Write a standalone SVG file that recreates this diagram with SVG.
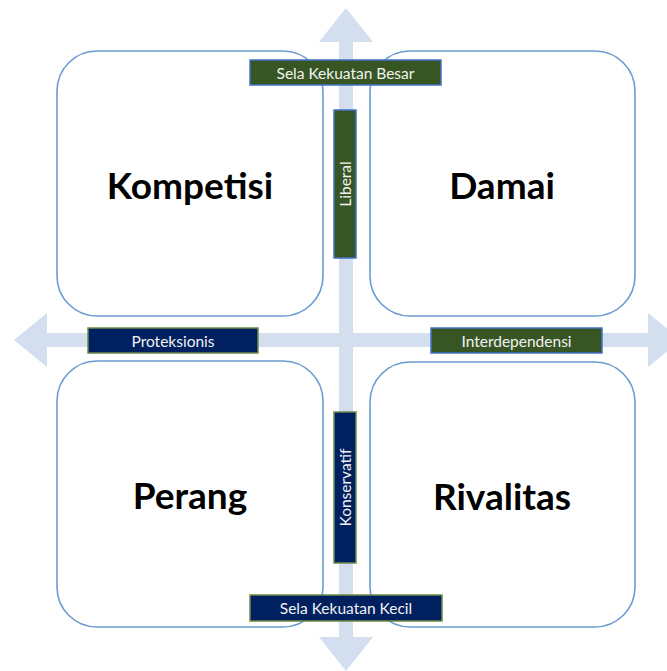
<svg xmlns="http://www.w3.org/2000/svg" width="667" height="671" viewBox="0 0 667 671">
<style>
.box{fill:#fff;stroke:#6C9BD2;stroke-width:1.6}
.arrow{fill:#D3DEEF}
.big{font-family:Lato,"Open Sans","Liberation Sans",sans-serif;font-weight:bold;font-size:37px;fill:#000;text-anchor:middle;dominant-baseline:central}
.lbl{font-family:Lato,"Open Sans","Liberation Sans",sans-serif;font-size:15.5px;fill:#F2F2F2;text-anchor:middle;dominant-baseline:central}
.green{fill:#375623;stroke:#4472C4;stroke-width:1.5}
.navy{fill:#002060;stroke:#6E8B4B;stroke-width:1.5}
</style>
<rect width="667" height="671" fill="#fff"/>
<g id="connectors">
<polygon class="arrow" points="346,8 373,42 353,42 353,637 373,637 346,671 319,637 339,637 339,42 319,42"/>
<polygon class="arrow" points="14,340 47,313 47,333 648,333 648,313 681,340 648,367 648,347 47,347 47,367"/>
</g>
<g id="kompetisi"><rect class="box" x="57" y="51" width="266" height="265" rx="40"/><text class="big" x="190" y="184">Kompetisi</text></g>
<g id="damai"><rect class="box" x="370" y="51" width="265" height="265" rx="40"/><text class="big" x="502" y="184">Damai</text></g>
<g id="perang"><rect class="box" x="57" y="361" width="266" height="266" rx="40"/><text class="big" x="190" y="494">Perang</text></g>
<g id="rivalitas"><rect class="box" x="370" y="362" width="265" height="265" rx="40"/><text class="big" x="502" y="495">Rivalitas</text></g>
<g id="sela-besar"><rect class="green" x="250" y="60" width="191" height="25"/><text class="lbl" x="345.5" y="72.5">Sela Kekuatan Besar</text></g>
<g id="liberal"><rect class="green" x="334" y="110" width="22" height="148"/><text class="lbl" transform="translate(345,184) rotate(-90)">Liberal</text></g>
<g id="proteksionis"><rect class="navy" x="88" y="328" width="170" height="25"/><text class="lbl" x="173" y="340.5">Proteksionis</text></g>
<g id="interdependensi"><rect class="green" x="431" y="328" width="171" height="25"/><text class="lbl" x="516.5" y="340.5">Interdependensi</text></g>
<g id="konservatif"><rect class="navy" x="334" y="412" width="22" height="151"/><text class="lbl" transform="translate(345,487.5) rotate(-90)">Konservatif</text></g>
<g id="sela-kecil"><rect class="navy" x="250" y="595" width="192" height="26"/><text class="lbl" x="346" y="608">Sela Kekuatan Kecil</text></g>
</svg>
